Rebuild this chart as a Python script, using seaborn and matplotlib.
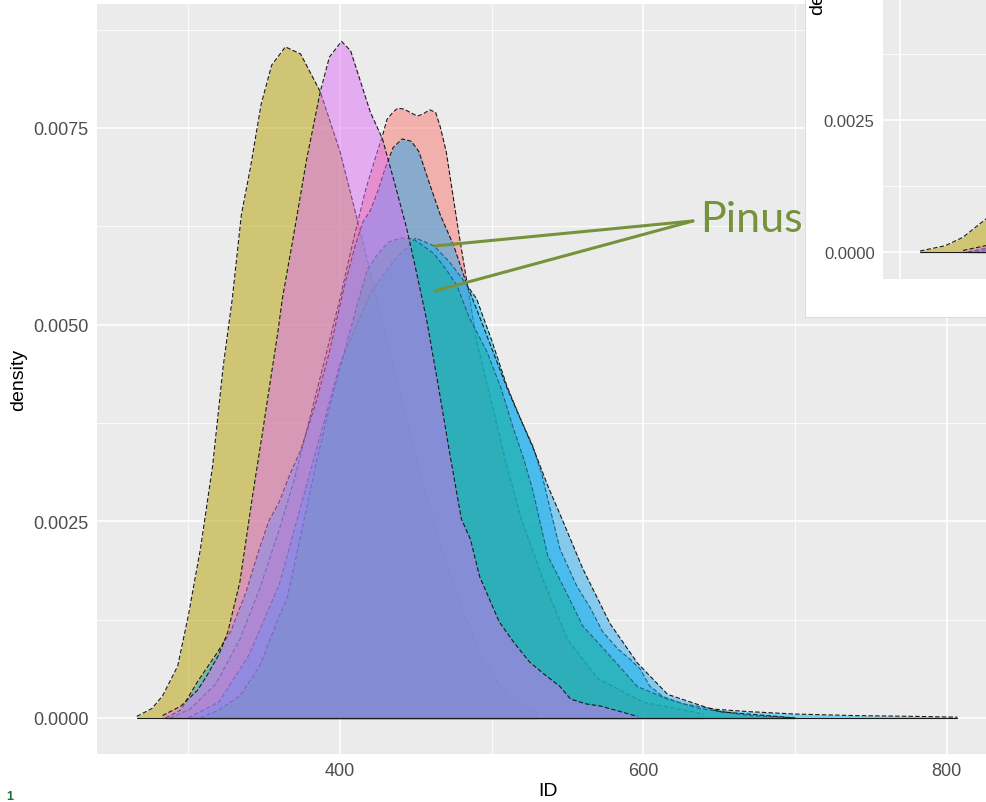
import matplotlib
matplotlib.use('Agg')
import matplotlib.pyplot as plt
import seaborn as sns
from matplotlib.patches import Rectangle

# ---------------- data ----------------
olive_x = [266, 276, 283, 293, 300, 308, 316, 323, 329, 335, 341, 348, 355, 364, 374, 387, 400, 413, 426, 440, 453, 466, 480, 495, 510, 530]
olive_y = [0.00002, 0.00012, 0.00028, 0.00066, 0.0013, 0.00215, 0.0032, 0.00447, 0.00533, 0.0064, 0.0070, 0.0078, 0.0083, 0.00853,
           0.00844, 0.00796, 0.0072, 0.00621, 0.0052, 0.0041, 0.0031, 0.0022, 0.0014, 0.0007, 0.0003, 0.00005]

salmon_x = [288, 301, 318, 334, 347, 360, 370, 380, 390, 400, 409, 417, 423, 428, 431, 435, 438, 442, 446, 451, 455, 459, 463, 466,
            470, 474, 478, 484, 490, 500, 510, 520, 535, 550, 570, 600, 640]
salmon_y = [0.0, 0.00011, 0.00043, 0.001, 0.00164, 0.0024, 0.00304, 0.0038, 0.00456, 0.00533, 0.00609, 0.00672, 0.0071, 0.0074,
            0.00761, 0.0077, 0.00775, 0.00774, 0.0077, 0.00765, 0.00768, 0.00773, 0.0077, 0.00752, 0.0072, 0.0067, 0.0062, 0.0055,
            0.0048, 0.0040, 0.0032, 0.0025, 0.0017, 0.0010, 0.0005, 0.0002, 0.00005]

sky_x = [300, 320, 340, 360, 380, 400, 420, 435, 450, 462, 472, 480, 490, 500, 510, 519, 527, 533, 538, 545, 556, 565, 573, 583,
         591, 598, 604, 613, 626, 648, 670, 700, 740, 780, 807]
sky_y = [0.0, 0.0002, 0.0008, 0.0017, 0.0031, 0.0045, 0.0054, 0.0058, 0.0061, 0.0060, 0.0058, 0.0056, 0.00533, 0.0048, 0.00422,
         0.0038, 0.00346, 0.0031, 0.0027, 0.00215, 0.00168, 0.0014, 0.0011, 0.00088, 0.00075, 0.00062, 0.00041, 0.00027, 0.00018,
         0.00011, 0.00008, 0.00005, 0.00003, 0.00002, 0.00001]

broad_x = [308, 320, 334, 347, 360, 365, 375, 385, 395, 405, 412, 418, 425, 432, 440, 448, 455, 462, 470, 477, 485, 497, 506, 514,
           521, 527, 537, 547, 560, 578, 596, 616, 637, 670, 700]
broad_y = [0.0, 0.0001, 0.00028, 0.00066, 0.0013, 0.00151, 0.0024, 0.0033, 0.0041, 0.0048, 0.0053, 0.0057, 0.0059, 0.00605, 0.0061,
           0.00609, 0.006, 0.0059, 0.0057, 0.0055, 0.0051, 0.00465, 0.0042, 0.0037, 0.0033, 0.0029, 0.00206, 0.00168, 0.00117,
           0.00079, 0.0004, 0.00024, 0.00012, 0.00003, 0.0]

tall_x = [285, 295, 306, 318, 328, 338, 346, 353, 360, 367, 374, 384, 393, 403, 410, 415, 420, 425, 430, 435, 441, 447, 452, 458,
          466, 475, 484, 492, 501, 510, 519, 528, 537, 547, 560, 578, 596, 616, 650, 700]
tall_y = [0.0, 0.0001, 0.00046, 0.0008, 0.0011, 0.0016, 0.0021, 0.0025, 0.00275, 0.0031, 0.0034, 0.004, 0.00465, 0.0055, 0.006,
          0.0063, 0.00645, 0.0067, 0.0070, 0.00725, 0.00736, 0.00733, 0.0072, 0.00685, 0.0064, 0.0060, 0.00549, 0.0051, 0.00465,
          0.0042, 0.0038, 0.0034, 0.00295, 0.0025, 0.0019, 0.0012, 0.0007, 0.0003, 0.00008, 0.0]

magenta_x = [283, 295, 306, 312, 320, 326, 334, 342, 349, 355, 359, 362, 370, 378, 387, 393, 401, 407, 413, 420, 428, 436, 444, 450,
             457, 465, 472, 480, 486, 492, 505, 515, 525, 535, 545, 552, 562, 572, 585, 596]
magenta_y = [0.00003, 0.00015, 0.00035, 0.00053, 0.0008, 0.00109, 0.00173, 0.00278, 0.00364, 0.0044, 0.0049, 0.00533, 0.0062,
             0.0071, 0.00796, 0.0084, 0.0086, 0.00848, 0.00812, 0.0077, 0.00736, 0.0068, 0.00622, 0.0057, 0.00507, 0.0042, 0.0034,
             0.00253, 0.00227, 0.0018, 0.00122, 0.00095, 0.00071, 0.00055, 0.0004, 0.00024, 0.00018, 0.00015, 0.00008, 0.00002]

x_major = [400, 600, 800]
x_minor = [300, 500, 700]
y_major = [0.0, 0.0025, 0.005, 0.0075]
y_major_labels = ['0.0000', '0.0025', '0.0050', '0.0075']
y_minor = [0.00125, 0.00375, 0.00625, 0.00875]

inset_y_major = [0.0, 0.0025]
inset_y_labels = ['0.0000', '0.0025']
inset_y_minor = [0.00125, 0.00375]

series = [
    (olive_x, olive_y, '#B79F00'),
    (salmon_x, salmon_y, '#F8766D'),
    (sky_x, sky_y, '#00B6EB'),
    (broad_x, broad_y, '#00BA38'),
    (tall_x, tall_y, '#20A8F0'),
    (magenta_x, magenta_y, '#DD6EF5'),
]

# ---------------- style ----------------
sns.set_theme(style='darkgrid')
plt.rcParams['font.family'] = ['Liberation Sans', 'DejaVu Sans']

W, H = 987, 803
fig = plt.figure(figsize=(W / 100, H / 100), dpi=100)
fig.patch.set_facecolor('white')


def fx(px):
    return px / W


def fy(py):
    return 1 - py / H


def style_axes(a, fs):
    a.set_facecolor('#EBEBEB')
    for s in a.spines.values():
        s.set_visible(False)
    a.grid(True, which='major', color='white', lw=1.2)
    a.grid(True, which='minor', color='white', lw=0.6)
    a.set_axisbelow(True)
    a.tick_params(which='major', length=4, width=0.8, color='#333333', labelcolor='#4D4D4D', labelsize=fs, pad=2)
    a.tick_params(which='minor', length=0)


def draw_series(a):
    z = 2
    for xs, ys, col in series:
        a.fill_between(xs, ys, 0, color=col, alpha=0.5, lw=0, zorder=z)
        sns.lineplot(x=xs, y=ys, ax=a, color='#1A1A1A', lw=0.8, linestyle=(0, (4, 2)), zorder=z + 0.5,
                     sort=False, estimator=None)
        sns.lineplot(x=[xs[0], xs[-1]], y=[0, 0], ax=a, color='#1A1A1A', lw=0.8, zorder=z + 0.5,
                     sort=False, estimator=None)
        z += 1


# ---------------- main panel ----------------
ax = fig.add_axes([fx(97), fy(755), fx(1000) - fx(97), fy(5) - fy(755)])
style_axes(ax, 13)
draw_series(ax)
ax.set_xlim(239.8, 835.1)
ax.set_ylim(-0.000458, 0.009075)
ax.set_xticks(x_major)
ax.set_xticks(x_minor, minor=True)
ax.set_yticks(y_major)
ax.set_yticklabels(y_major_labels)
ax.set_yticks(y_minor, minor=True)
ax.set_xlabel('ID', fontsize=14, color='black', labelpad=2)
ax.set_ylabel('density', fontsize=14, color='black', labelpad=4)

green = '#76923C'
ax.text(637.3, 0.00634, 'Pinus', fontsize=31, color=green, va='center', ha='left', zorder=20,
        family=['Lato', 'Liberation Sans'])
for yy in (0.0060, 0.005427):
    ax.annotate('', xy=(462.6, yy), xytext=(632.7, 0.006317),
                arrowprops=dict(arrowstyle='-', color=green, lw=2.2, shrinkA=0, shrinkB=0), zorder=20)

# ---------------- inset (cropped) ----------------
fig.add_artist(Rectangle((fx(805), fy(318)), fx(1000) - fx(805), fy(-10) - fy(318), transform=fig.transFigure,
                         facecolor='white', edgecolor='#DDDDDD', lw=0.8, zorder=5))
ax2 = fig.add_axes([fx(883), fy(280), fx(1000) - fx(883), fy(-5) - fy(280)], zorder=6)
style_axes(ax2, 12)
draw_series(ax2)
ax2.set_xlim(251.3, 297.7)
ax2.set_ylim(-0.000511, 0.00489)
ax2.set_xticks([258])
ax2.set_xticklabels([''])
ax2.tick_params(axis='x', which='major', length=0)
ax2.set_yticks(inset_y_major)
ax2.set_yticklabels(inset_y_labels)
ax2.set_yticks(inset_y_minor, minor=True)
ax2.set_xlabel('')
ax2.set_ylabel('')
fig.text(fx(818), fy(15), 'density', rotation=90, ha='center', va='bottom', fontsize=14, color='black', zorder=7)

fig.text(fx(10), fy(797), '1', color='#1E6B3A', fontsize=9, fontweight='bold', va='center', ha='center')

fig.savefig('out.png', dpi=100)
